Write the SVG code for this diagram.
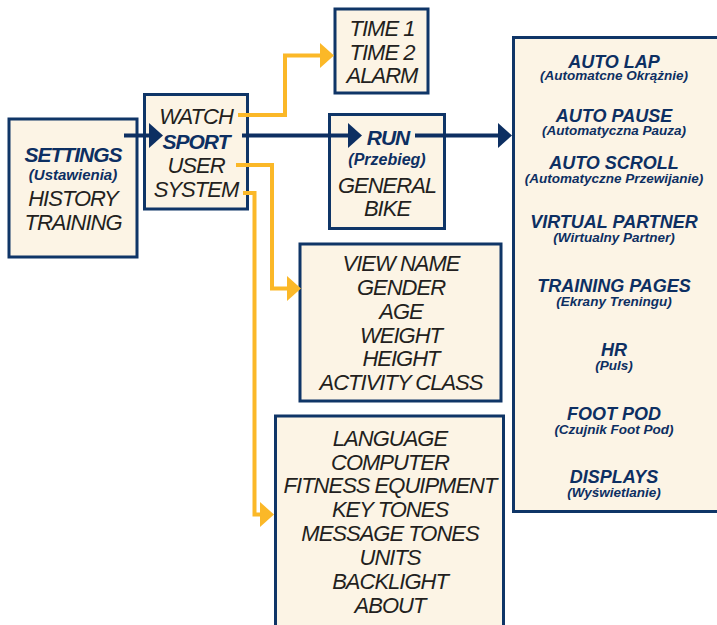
<svg xmlns="http://www.w3.org/2000/svg" width="717" height="625" viewBox="0 0 717 625">
<style>
.box{fill:#fcf4e5;stroke:#0f3567;stroke-width:3}
.t{font-family:"Liberation Sans",Arial,sans-serif;font-style:italic;font-size:22px;fill:#231f20;text-anchor:middle;letter-spacing:-1px}
.b{font-family:"Liberation Sans",Arial,sans-serif;font-style:italic;font-weight:bold;fill:#0d2f62;text-anchor:middle}
.h1{font-size:21px;letter-spacing:-1px}
.h2{font-size:18px}
.s{font-size:13.5px}
.nav{fill:none;stroke:#0d2f62;stroke-width:4}
.yel{fill:none;stroke:#fbb828;stroke-width:4}
</style>
<defs>
<marker id="an" viewBox="0 0 14 25" refX="0" refY="12.5" markerWidth="14" markerHeight="25" markerUnits="userSpaceOnUse" orient="auto"><path d="M0,0 L14,12.5 L0,25 Z" fill="#0d2f62"/></marker>
<marker id="ay" viewBox="0 0 14 25" refX="0" refY="12.5" markerWidth="14" markerHeight="25" markerUnits="userSpaceOnUse" orient="auto"><path d="M0,0 L14,12.5 L0,25 Z" fill="#fbb828"/></marker>
</defs>

<g id="settings">
<rect class="box" x="9" y="119" width="128" height="138"/>
<text class="b h1" x="73" y="162">SETTINGS</text>
<text class="b" x="73" y="180" font-size="15">(Ustawienia)</text>
<text class="t" x="73" y="206">HISTORY</text>
<text class="t" x="73" y="230">TRAINING</text>
</g>

<g id="watch">
<rect class="box" x="144.5" y="94.5" width="103" height="114.5"/>
<text class="t" x="196" y="124">WATCH</text>
<text class="b h1" x="196" y="149">SPORT</text>
<text class="t" x="196" y="173">USER</text>
<text class="t" x="196" y="197">SYSTEM</text>
</g>

<g id="time">
<rect class="box" x="335" y="9" width="93" height="84"/>
<text class="t" x="382" y="36">TIME 1</text>
<text class="t" x="382" y="60">TIME 2</text>
<text class="t" x="382" y="83">ALARM</text>
</g>

<g id="run">
<rect class="box" x="329.5" y="114.5" width="115" height="114"/>
<text class="b h1" x="388" y="145">RUN</text>
<text class="b" x="387" y="165" font-size="16">(Przebieg)</text>
<text class="t" x="387" y="193">GENERAL</text>
<text class="t" x="387" y="216">BIKE</text>
</g>

<g id="user">
<rect class="box" x="300" y="244" width="201" height="157"/>
<text class="t" x="401" y="271">VIEW NAME</text>
<text class="t" x="401" y="295">GENDER</text>
<text class="t" x="401" y="319">AGE</text>
<text class="t" x="401" y="343">WEIGHT</text>
<text class="t" x="401" y="366">HEIGHT</text>
<text class="t" x="401" y="390">ACTIVITY CLASS</text>
</g>

<g id="system">
<rect class="box" x="275.5" y="416" width="228" height="240"/>
<text class="t" x="390" y="446">LANGUAGE</text>
<text class="t" x="390" y="470">COMPUTER</text>
<text class="t" x="390" y="493">FITNESS EQUIPMENT</text>
<text class="t" x="390" y="517">KEY TONES</text>
<text class="t" x="390" y="541">MESSAGE TONES</text>
<text class="t" x="390" y="565">UNITS</text>
<text class="t" x="390" y="589">BACKLIGHT</text>
<text class="t" x="390" y="613">ABOUT</text>
</g>

<g id="sport-options">
<rect class="box" x="513.5" y="37.5" width="220" height="474"/>
<text class="b h2" x="614" y="68">AUTO LAP</text>
<text class="b s" x="614" y="80">(Automatcne Okrążnie)</text>
<text class="b h2" x="614" y="122">AUTO PAUSE</text>
<text class="b s" x="614" y="135">(Automatyczna Pauza)</text>
<text class="b h2" x="614" y="169">AUTO SCROLL</text>
<text class="b s" x="614" y="183">(Automatyczne Przewijanie)</text>
<text class="b h2" x="614" y="228">VIRTUAL PARTNER</text>
<text class="b s" x="614" y="242">(Wirtualny Partner)</text>
<text class="b h2" x="614" y="292">TRAINING PAGES</text>
<text class="b s" x="614" y="306">(Ekrany Treningu)</text>
<text class="b h2" x="614" y="356">HR</text>
<text class="b s" x="614" y="370">(Puls)</text>
<text class="b h2" x="614" y="420">FOOT POD</text>
<text class="b s" x="614" y="434">(Czujnik Foot Pod)</text>
<text class="b h2" x="614" y="483">DISPLAYS</text>
<text class="b s" x="614" y="497">(Wyświetlanie)</text>
</g>

<g id="connectors">
<path class="nav" d="M124,135.5 H149" marker-end="url(#an)"/>
<path class="nav" d="M242,135.5 H348" marker-end="url(#an)"/>
<path class="nav" d="M415,135.5 H498" marker-end="url(#an)"/>
<path class="yel" d="M238,115 H285 V55.5 H320" marker-end="url(#ay)"/>
<path class="yel" d="M236,165 H272 V288.5 H287" marker-end="url(#ay)"/>
<path class="yel" d="M243,193 H254.5 V514.5 H260" marker-end="url(#ay)"/>
</g>
</svg>
